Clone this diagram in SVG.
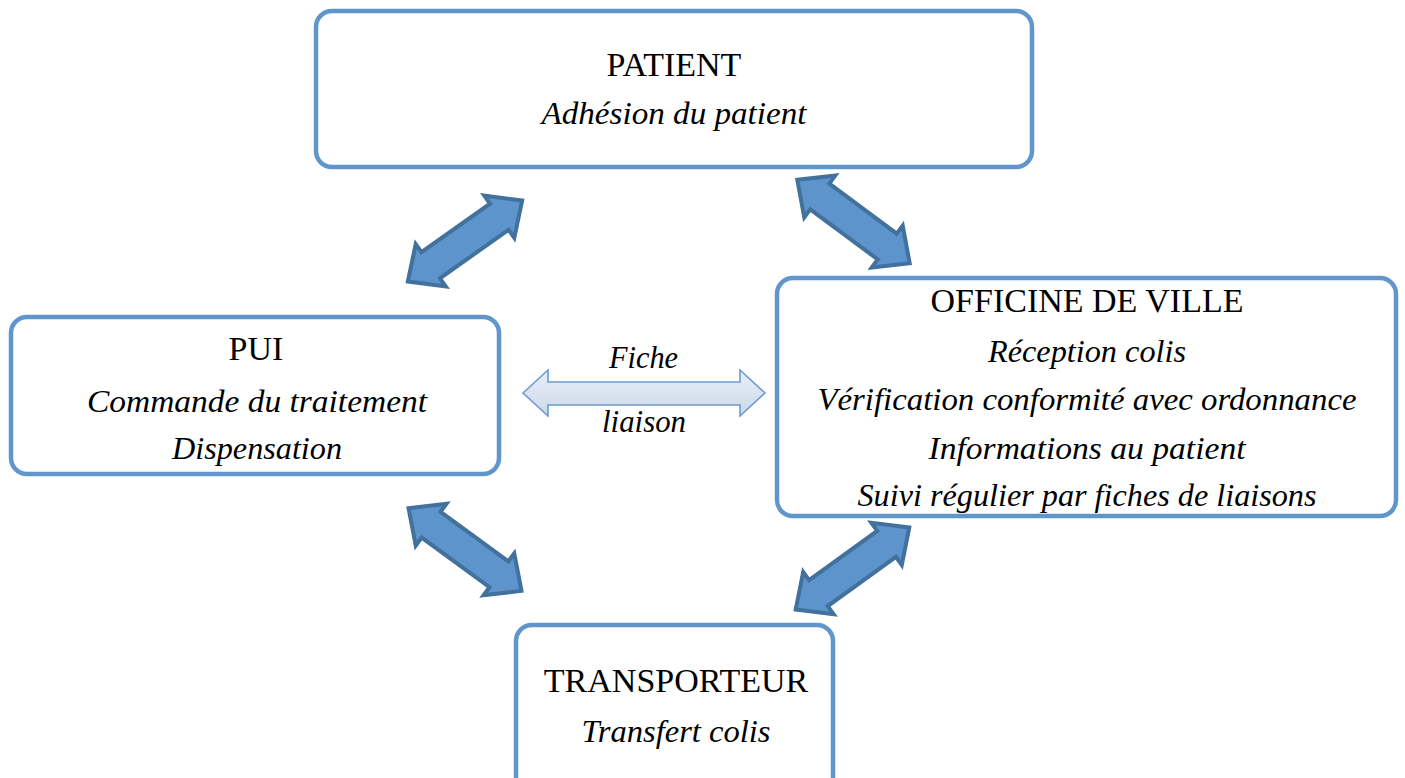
<svg xmlns="http://www.w3.org/2000/svg" width="1405" height="778" viewBox="0 0 1405 778">
<style>
.box{fill:#ffffff;stroke:#6096cc;stroke-width:4.5}
.t{font-family:"Liberation Serif","Times New Roman",serif;font-size:34px;fill:#000;text-anchor:middle}
.i{font-family:"Liberation Serif","Times New Roman",serif;font-size:32px;font-style:italic;fill:#000;text-anchor:middle}
.dark{fill:#5e94cc;stroke:#41719c;stroke-width:4;stroke-linejoin:miter}
.light{fill:url(#lg);stroke:#6b9bd2;stroke-width:1.6}
</style>
<defs>
<linearGradient id="lg" x1="0" y1="0" x2="0" y2="1">
<stop offset="0" stop-color="#e8eef6"/>
<stop offset="1" stop-color="#cdd9e9"/>
</linearGradient>
<path id="dbl" d="M -70,0 L -42,-26 L -42,-16 L 42,-16 L 42,-26 L 70,0 L 42,26 L 42,16 L -42,16 L -42,26 Z"/>
</defs>
<rect width="1405" height="778" fill="#ffffff"/>
<g id="patient">
<rect class="box" x="316" y="11" width="716" height="156" rx="16"/>
<text class="t" x="674" y="76">PATIENT</text>
<text class="i" x="674" y="124" textLength="265" lengthAdjust="spacingAndGlyphs">Adhésion du patient</text>
</g>
<g id="pui">
<rect class="box" x="11" y="317" width="488" height="157" rx="16"/>
<text class="t" x="256" y="360">PUI</text>
<text class="i" x="257" y="412" textLength="340" lengthAdjust="spacingAndGlyphs">Commande du traitement</text>
<text class="i" x="257" y="459" textLength="170" lengthAdjust="spacingAndGlyphs">Dispensation</text>
</g>
<g id="officine">
<rect class="box" x="777" y="278" width="619" height="238" rx="16"/>
<text class="t" x="1087" y="312">OFFICINE DE VILLE</text>
<text class="i" x="1087" y="362" textLength="198" lengthAdjust="spacingAndGlyphs">Réception colis</text>
<text class="i" x="1087" y="410" textLength="539" lengthAdjust="spacingAndGlyphs">Vérification conformité avec ordonnance</text>
<text class="i" x="1087" y="459" textLength="317" lengthAdjust="spacingAndGlyphs">Informations au patient</text>
<text class="i" x="1087" y="506" textLength="459" lengthAdjust="spacingAndGlyphs">Suivi régulier par fiches de liaisons</text>
</g>
<g id="transporteur">
<rect class="box" x="516" y="625" width="317" height="170" rx="16"/>
<text class="t" x="676" y="692">TRANSPORTEUR</text>
<text class="i" x="676" y="742" textLength="189" lengthAdjust="spacingAndGlyphs">Transfert colis</text>
</g>
<g id="connectors">
<use href="#dbl" class="dark" transform="translate(465,241) rotate(-35.3)"/>
<use href="#dbl" class="dark" transform="translate(853.5,221.5) rotate(36.6)"/>
<use href="#dbl" class="dark" transform="translate(465,549.5) rotate(36.2)"/>
<use href="#dbl" class="dark" transform="translate(852.5,568.5) rotate(-35.8)"/>
<path class="light" d="M 523,393 L 548,370 L 548,382 L 740,382 L 740,370 L 765,393 L 740,416 L 740,405 L 548,405 L 548,416 Z"/>
<text class="i" x="643.5" y="368" textLength="69" lengthAdjust="spacingAndGlyphs">Fiche</text>
<text class="i" x="644" y="432" textLength="84" lengthAdjust="spacingAndGlyphs">liaison</text>
</g>
</svg>
